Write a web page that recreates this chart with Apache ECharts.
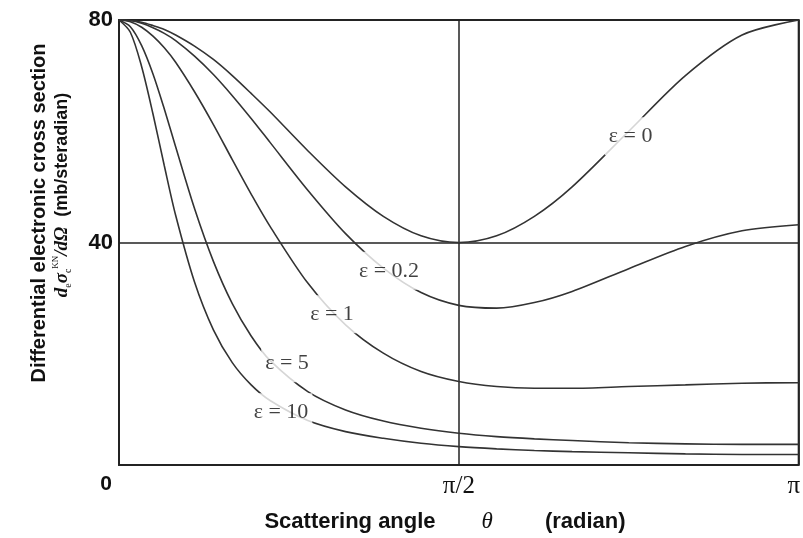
<!DOCTYPE html>
<html>
<head>
<meta charset="utf-8">
<title>Klein-Nishina</title>
<script src="https://cdn.jsdelivr.net/npm/echarts@6/dist/echarts.min.js"></script>
<style>
  html, body { margin: 0; padding: 0; background: #fff; }
  #chart { width: 803px; height: 538px; }
</style>
</head>
<body>
<div id="chart"></div>
<script>
// scattering angle (degrees, axis shown as 0 .. pi)
const angles = [0, 3, 6, 9, 12, 15, 20, 25, 30, 35, 40, 50, 60, 70, 80, 90, 100, 110, 120, 135, 150, 165, 180];

// differential cross section (mb/steradian)
const eps0  = [80, 79.9, 79.6, 79.0, 78.3, 77.3, 75.3, 72.9, 70.0, 66.8, 63.5, 56.5, 50.0, 44.7, 41.2, 40.0, 41.2, 44.7, 50.0, 60.0, 70.0, 77.3, 80];
const eps02 = [80, 79.9, 79.4, 78.6, 77.6, 76.3, 73.5, 70.2, 66.4, 62.3, 58.0, 49.4, 41.6, 35.4, 31.0, 28.7, 28.2, 29.2, 31.2, 35.3, 39.3, 42.1, 43.2];
const eps1  = [80, 79.7, 78.7, 77.1, 75.0, 72.4, 67.1, 61.2, 54.9, 48.7, 42.9, 32.7, 25.2, 20.1, 16.8, 15.0, 14.1, 13.8, 13.8, 14.1, 14.4, 14.7, 14.8];
const eps5  = [80, 78.8, 75.4, 70.3, 64.0, 57.2, 46.1, 36.6, 29.0, 23.2, 18.8, 13.2, 9.9, 7.9, 6.6, 5.7, 5.1, 4.7, 4.4, 4.0, 3.8, 3.7, 3.7];
const eps10 = [80, 77.8, 71.6, 63.1, 53.8, 44.9, 32.9, 24.3, 18.4, 14.4, 11.6, 8.0, 6.0, 4.8, 3.9, 3.3, 2.9, 2.6, 2.4, 2.2, 2.0, 1.9, 1.9];

// curve labels
const labelText = ['ε = 0', 'ε = 0.2', 'ε = 1', 'ε = 5', 'ε = 10'];
const labelX = [135.5, 71.5, 56.4, 44.5, 42.9];
const labelY = [59.1, 34.9, 27.1, 18.3, 9.5];

// tick labels
const xTickValues = [0, 90, 180];
const xTickLabels = ['{z|0}', 'π/2', '{p|π}'];
const yTickValues = [40, 80];

const pairs = ys => angles.map((a, i) => [a, ys[i]]);

const curve = (name, ys) => ({
  name: name,
  type: 'line',
  data: pairs(ys),
  smooth: 0.3,
  showSymbol: false,
  lineStyle: { color: '#333', width: 1.6 },
  z: 3
});

const chart = echarts.init(document.getElementById('chart'));
chart.setOption({
  animation: false,
  grid: {
    left: 119, right: 4, top: 20, bottom: 73,
    show: true, borderColor: '#2a2a2a', borderWidth: 2
  },
  xAxis: {
    type: 'value',
    min: 0, max: 180, interval: 90,
    axisLine: { show: false },
    axisTick: { show: false },
    splitLine: { show: true, lineStyle: { color: '#222', width: 1.5 } },
    axisLabel: {
      margin: 9,
      color: '#111',
      fontFamily: 'Liberation Serif',
      fontSize: 25,
      formatter: v => xTickLabels[xTickValues.indexOf(v)] || '',
      rich: {
        z: { fontFamily: 'Liberation Sans', fontWeight: 'bold', fontSize: 21, color: '#111', padding: [0, 26, 0, 0] },
        p: { fontFamily: 'Liberation Serif', fontSize: 25, color: '#111', padding: [0, 10, 0, 0] }
      }
    }
  },
  yAxis: {
    type: 'value',
    min: 0, max: 80, interval: 40,
    axisLine: { show: false },
    axisTick: { show: false },
    splitLine: { show: true, lineStyle: { color: '#222', width: 1.5 } },
    axisLabel: {
      margin: 6,
      color: '#111',
      fontFamily: 'Liberation Sans',
      fontWeight: 'bold',
      fontSize: 22,
      formatter: v => yTickValues.indexOf(v) >= 0 ? String(v) : ''
    }
  },
  graphic: [
    {
      type: 'text', x: 39, y: 213, rotation: Math.PI / 2,
      style: {
        text: 'Differential electronic cross section',
        fontFamily: 'Liberation Sans', fontWeight: 'bold', fontSize: 20,
        fill: '#111', align: 'center', verticalAlign: 'middle'
      }
    },
    {
      type: 'text', x: 62, y: 195, rotation: Math.PI / 2,
      style: {
        text: '{i|d}{sb|e}{i|σ}{sb|c}{sp|KN}{i|/dΩ}{b|  (mb/steradian)}',
        fill: '#111', align: 'center', verticalAlign: 'middle',
        rich: {
          i: { fontFamily: 'Liberation Serif', fontStyle: 'italic', fontWeight: 'bold', fontSize: 19, lineHeight: 22, fill: '#111' },
          sb: { fontFamily: 'Liberation Serif', fontSize: 10, lineHeight: 22, verticalAlign: 'bottom', fill: '#111' },
          sp: { fontFamily: 'Liberation Serif', fontSize: 9, lineHeight: 22, verticalAlign: 'top', fill: '#111' },
          b: { fontFamily: 'Liberation Sans', fontWeight: 'bold', fontSize: 18, lineHeight: 22, fill: '#111' }
        }
      }
    },
    {
      type: 'text', x: 445, y: 522,
      style: {
        text: '{b|Scattering angle}{t|θ}{b|(radian)}',
        fill: '#111', align: 'center', verticalAlign: 'middle',
        rich: {
          b: { fontFamily: 'Liberation Sans', fontWeight: 'bold', fontSize: 22, fill: '#111' },
          t: { fontFamily: 'Liberation Serif', fontStyle: 'italic', fontSize: 23, fill: '#111', padding: [0, 52, 0, 46] }
        }
      }
    }
  ],
  series: [
    curve('ε = 0', eps0),
    curve('ε = 0.2', eps02),
    curve('ε = 1', eps1),
    curve('ε = 5', eps5),
    curve('ε = 10', eps10),
    {
      name: 'labels',
      type: 'scatter',
      symbolSize: 0,
      z: 10,
      data: labelX.map((x, i) => ({ value: [x, labelY[i]], name: labelText[i] })),
      label: {
        show: true,
        position: 'inside',
        formatter: p => p.name,
        fontFamily: 'Liberation Serif',
        fontSize: 22,
        color: '#111',
        backgroundColor: '#fff',
        padding: [8, 4]
      }
    }
  ]
});
</script>
</body>
</html>
